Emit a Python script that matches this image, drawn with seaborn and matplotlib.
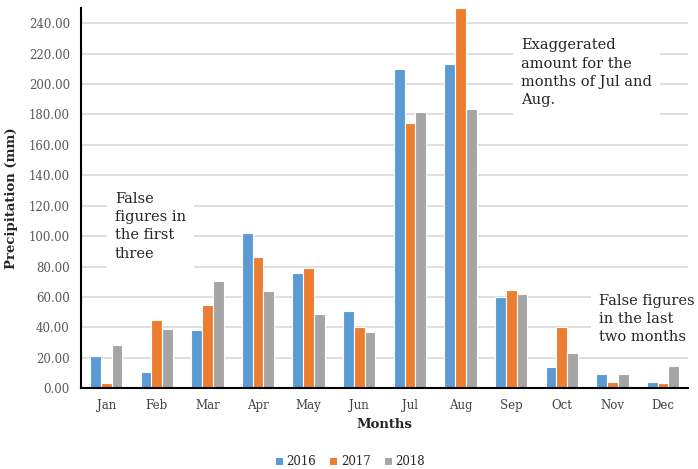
import matplotlib
matplotlib.use("Agg")
import matplotlib.pyplot as plt
import seaborn as sns
import pandas as pd
from matplotlib.patches import Patch

months = ["Jan", "Feb", "Mar", "Apr", "May", "Jun",
          "Jul", "Aug", "Sep", "Oct", "Nov", "Dec"]
years = ["2016", "2017", "2018"]
rain_2016 = [21.4, 10.6, 38.2, 102.4, 76.1, 50.9, 210.0, 213.3, 60.1, 13.9, 9.5, 4.3]
rain_2017 = [3.4, 44.6, 54.9, 86.6, 79.4, 40.2, 174.3, 250.0, 64.5, 40.2, 4.3, 3.4]
rain_2018 = [28.6, 39.3, 70.6, 64.3, 48.8, 37.1, 181.5, 183.7, 62.3, 23.3, 9.5, 15.0]
y_ticks = list(range(0, 241, 20))

df = pd.DataFrame({
    "Month": months * 3,
    "Year": [y for y in years for _ in months],
    "Precipitation": rain_2016 + rain_2017 + rain_2018,
})

sns.set_theme(style="white")
plt.rcParams["font.family"] = ["DejaVu Serif"]

colors = ["#5B9BD5", "#ED7D31", "#A5A5A5"]

fig = plt.figure(figsize=(6.98, 4.69), dpi=100)
ax = fig.add_axes([0.116, 0.172, 0.87, 0.811])

sns.barplot(data=df, x="Month", y="Precipitation", hue="Year",
            order=months, hue_order=years, palette=colors, saturation=1,
            width=0.64, edgecolor="white", linewidth=0.8,
            ax=ax, legend=False, zorder=3)

ax.set_ylim(0, 250)
ax.set_xlim(-0.5, 11.5)
ax.set_yticks(y_ticks)
ax.set_yticklabels([f"{v:.2f}" for v in y_ticks], fontsize=8.5, color="#595959")
ax.tick_params(axis="x", labelsize=8.5, labelcolor="#404040", length=0, pad=8)
ax.tick_params(axis="y", length=0, pad=8)
ax.yaxis.grid(True, color="#d9d9d9", linewidth=1.2, zorder=0)
ax.set_axisbelow(True)

for side in ["top", "right"]:
    ax.spines[side].set_visible(False)
for side in ["left", "bottom"]:
    ax.spines[side].set_color("black")
    ax.spines[side].set_linewidth(1.5)
    ax.spines[side].set_zorder(6)

ax.set_xlabel("Months", fontsize=9.5, fontweight="bold", labelpad=4)
ax.set_ylabel("Precipitation (mm)", fontsize=9.5, fontweight="bold", labelpad=8)

box = dict(facecolor="white", edgecolor="none", pad=6)
note_style = dict(fontsize=10.5, linespacing=1.38, va="top", ha="left", bbox=box, zorder=4)
ax.text(0.17, 129, "False\nfigures in\nthe first\nthree", **note_style)
ax.text(8.2, 230, "Exaggerated\namount for the\nmonths of Jul and\nAug.", **note_style)
ax.text(9.74, 62, "False figures\nin the last\ntwo months", **note_style)

handles = [Patch(facecolor=c, edgecolor="none", label=y) for c, y in zip(colors, years)]
fig.legend(handles=handles, loc="center", bbox_to_anchor=(0.502, 0.015),
           ncol=3, frameon=False, fontsize=8.5, handlelength=0.6, handleheight=0.6,
           handletextpad=0.3, columnspacing=1.2)

fig.savefig("out.png", dpi=100)
